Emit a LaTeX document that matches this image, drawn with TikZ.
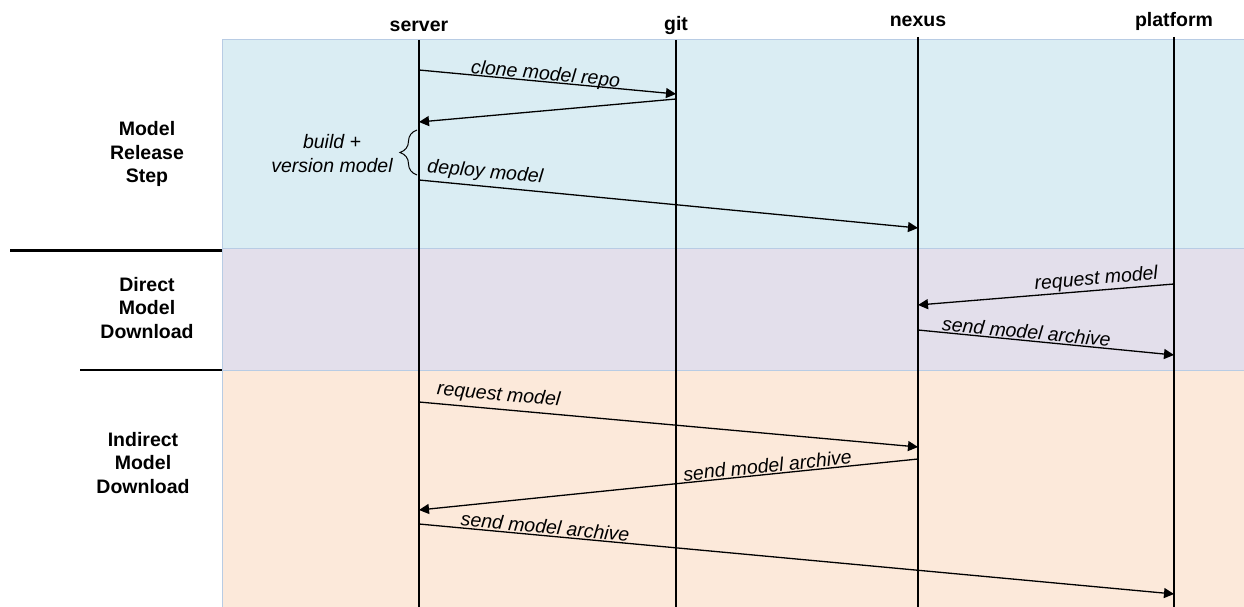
\documentclass[tikz,border=0pt]{standalone}
\usepackage{fontspec}
\setmainfont{Liberation Sans}
\usetikzlibrary{arrows.meta,decorations.pathreplacing}

\definecolor{releasebg}{HTML}{DAEDF3}
\definecolor{directbg}{HTML}{E3DFEB}
\definecolor{indirectbg}{HTML}{FCE9DA}
\definecolor{bandline}{HTML}{B8CCE4}

\begin{document}
\begin{tikzpicture}[
  x=1pt, y=-1pt,
  font=\fontsize{19.5}{23}\selectfont,
  actor/.style={font=\bfseries\fontsize{19.5}{23}\selectfont, anchor=base, inner sep=0pt},
  phase/.style={font=\bfseries\fontsize{19.5}{23.5}\selectfont, align=center},
  lifeline/.style={line width=1.2pt},
  msg/.style={-{Triangle[length=10pt, width=10pt]}, line width=1.3pt},
  lbl/.style={font=\itshape\fontsize{19.5}{23}\selectfont, sloped, above, inner sep=1pt},
  band/.style={draw=bandline, line width=1pt}
]
\useasboundingbox (0,0) rectangle (1244,607);

% phases
\filldraw[band, fill=releasebg] (222,40) rectangle (1250,248);
\filldraw[band, fill=directbg] (222,248) rectangle (1250,370);
\filldraw[band, fill=indirectbg] (222,370) rectangle (1250,612);

\draw[line width=3pt] (10,250) -- (222,250);
\draw[line width=1.3pt] (80,370) -- (222,370);

\node[phase] (release) at (147,154) {Model\\Release\\Step};
\node[phase] (direct) at (147,308) {Direct\\Model\\Download};
\node[phase] (indirect) at (143,463) {Indirect\\Model\\Download};

% actors
\node[actor] (server) at (419,32) {server};
\node[actor] (git) at (676,31) {git};
\node[actor] (nexus) at (918,27) {nexus};
\node[actor] (platform) at (1174,27) {platform};

\draw[lifeline] (server |- 0,40) -- (server |- 0,607);
\draw[lifeline] (git |- 0,40) -- (git |- 0,607);
\draw[lifeline] (nexus |- 0,37) -- (nexus |- 0,607);
\draw[lifeline] (platform |- 0,37) -- (platform |- 0,607);

% model release
\draw[msg] (server |- 0,70) -- node[lbl, pos=0.49, yshift=-4pt] {clone model repo} (git |- 0,94);
\draw[msg] (git |- 0,99) -- (server |- 0,122);
\draw[line width=1pt, decorate, decoration={brace, amplitude=17pt}] (417,175) -- (417,130);
\node[font=\itshape\fontsize{19.5}{24}\selectfont, align=center] (build) at (332,154) {build +\\version model};
\draw[msg] (server |- 0,180) -- node[lbl, pos=0.13, yshift=3pt] {deploy model} (nexus |- 0,228);

% direct download
\draw[msg] (platform |- 0,284) -- node[lbl, pos=0.30] {request model} (nexus |- 0,305);
\draw[msg] (nexus |- 0,330) -- node[lbl, pos=0.42] {send model archive} (platform |- 0,355);

% indirect download
\draw[msg] (server |- 0,402) -- node[lbl, pos=0.157, yshift=3pt] {request model} (nexus |- 0,447);
\draw[msg] (nexus |- 0,459) -- node[lbl, pos=0.3] {send model archive} (server |- 0,510);
\draw[msg] (server |- 0,524) -- node[lbl, pos=0.166] {send model archive} (platform |- 0,594);
\end{tikzpicture}
\end{document}
